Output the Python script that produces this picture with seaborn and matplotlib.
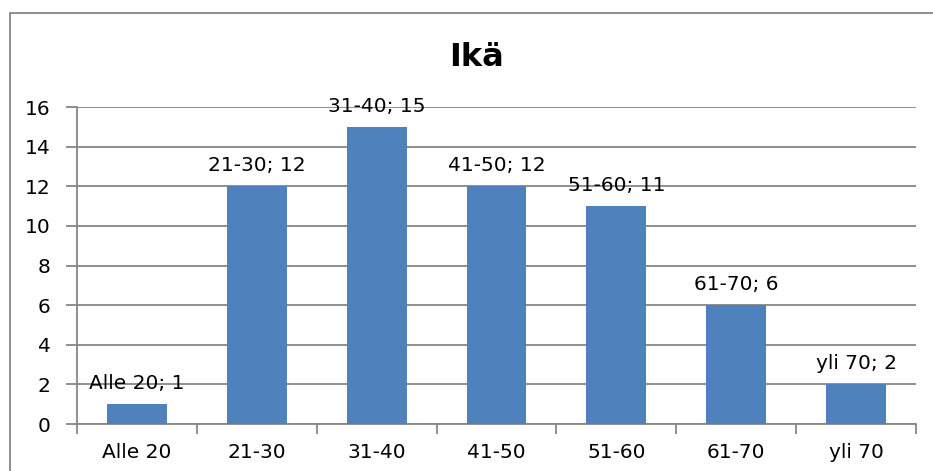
import matplotlib
matplotlib.use("Agg")
import matplotlib.pyplot as plt
import seaborn as sns
import pandas as pd
from matplotlib.patches import Rectangle

categories = ["Alle 20", "21-30", "31-40", "41-50", "51-60", "61-70", "yli 70"]
values = [1, 12, 15, 12, 11, 6, 2]
title = "Ikä"

df = pd.DataFrame({"cat": categories, "val": values})

sns.set_theme(style="white")
plt.rcParams["font.family"] = ["DejaVu Sans"]
plt.rcParams["text.color"] = "black"

fig = plt.figure(figsize=(9.33, 4.71), dpi=100)
ax = fig.add_axes([77/933, 1-424/471, (916-77)/933, (424-107)/471])

grid_c = "#868686"
sns.barplot(data=df, x="cat", y="val", color="#4F81BD", saturation=1, width=0.5,
            linewidth=0, ax=ax, zorder=3)

ax.set_ylim(0, 16)
ax.set_xlim(-0.5, len(categories)-0.5)
ax.set_yticks(range(0, 17, 2))
ax.yaxis.grid(True, color=grid_c, lw=1.3, zorder=0)
ax.set_axisbelow(True)
ax.set_xlabel("")
ax.set_ylabel("")
for s in ["top", "right"]:
    ax.spines[s].set_visible(False)
for s in ["left", "bottom"]:
    ax.spines[s].set_color(grid_c)
    ax.spines[s].set_linewidth(1.3)

fs = 14.5
ax.tick_params(axis="y", length=8, width=1.3, color=grid_c, left=True, labelsize=fs, pad=11, labelcolor="black")
ax.tick_params(axis="x", length=0, labelsize=fs, pad=14, labelcolor="black")
ax.set_xticks([i - 0.5 for i in range(len(categories)+1)], minor=True)
ax.tick_params(axis="x", which="minor", length=7, width=1.3, color=grid_c, bottom=True)

for i, (c, v) in enumerate(zip(categories, values)):
    ax.annotate(f"{c}; {v}", (i, v), xytext=(0, 11), textcoords="offset points",
                ha="center", va="baseline", fontsize=fs, color="black", zorder=5)

fig.text(476/933, 1-66/471, title, ha="center", va="baseline", fontsize=23,
         fontweight="bold", color="black")

fig.add_artist(Rectangle((10/933, -0.2), 1.2, 1-12.5/471+0.2, transform=fig.transFigure,
                         fill=False, edgecolor=grid_c, lw=1.3))

fig.savefig("out.png", dpi=100)
